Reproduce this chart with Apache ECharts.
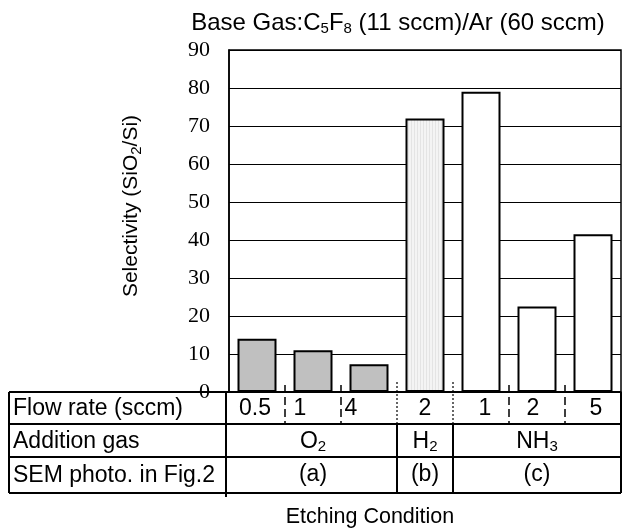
<!DOCTYPE html>
<html lang="en">
<head>
    <meta charset="UTF-8">
    <title>Selectivity</title>
    <script src="https://cdn.jsdelivr.net/npm/echarts@6/dist/echarts.min.js"></script>
    <style>
        body { margin: 0; background: #fff; }
    </style>
</head>
<body>
<div id="main" style="width:623px; height:531px;"></div>
<script>
    // data
    var conditions = ['O2-0.5', 'O2-1', 'O2-4', 'H2-2', 'NH3-1', 'NH3-2', 'NH3-5'];
    var selectivity = [14, 11, 7.3, 72, 79, 22.5, 41.5];
    var flowRates = ['0.5', '1', '4', '2', '1', '2', '5'];
    var gasNames = ['O{s|2}', 'H{s|2}', 'NH{s|3}'];
    var gasSpans = [3, 1, 3];
    var semPhotos = ['(a)', '(b)', '(c)'];
    var yTicks = [0, 10, 20, 30, 40, 50, 60, 70, 80, 90];

    // layout
    var gasColors = ['#c0c0c0', 'stripe', '#ffffff'];
    var flowShift = [-2, -13, -18, 0, 4, -4, 3];
    var tableLeft = 9, labelColRight = 226, tableRight = 621;
    var rowY = [392, 424, 457, 493];
    var sans = 'Liberation Sans, Arial, sans-serif';
    var serif = 'Liberation Serif, Times New Roman, serif';

    // striped fill for the H2 bar
    var stripe = document.createElement('canvas');
    stripe.width = 3; stripe.height = 4;
    var sc = stripe.getContext('2d');
    sc.fillStyle = '#f4f4f4'; sc.fillRect(0, 0, 3, 4);
    sc.fillStyle = '#e4e4e4'; sc.fillRect(0, 0, 1, 4);

    var chart = echarts.init(document.getElementById('main'));

    var barData = [];
    var k = 0;
    for (var g = 0; g < gasSpans.length; g++) {
        for (var j = 0; j < gasSpans[g]; j++) {
            var c = gasColors[g] === 'stripe' ? {image: stripe, repeat: 'repeat'} : gasColors[g];
            barData.push({value: selectivity[k], itemStyle: {color: c}});
            k++;
        }
    }

    var option = {
        animation: false,
        grid: {
            left: 229, right: 2, top: 50, bottom: 139,
            show: true, borderColor: '#000', borderWidth: 1.5, backgroundColor: 'transparent'
        },
        xAxis: {
            type: 'category',
            data: conditions,
            axisLine: {lineStyle: {color: '#000', width: 1.5}},
            axisTick: {show: false},
            axisLabel: {show: false}
        },
        yAxis: {
            type: 'value',
            min: yTicks[0],
            max: yTicks[yTicks.length - 1],
            interval: 10,
            axisLine: {show: true, lineStyle: {color: '#000', width: 1.5}},
            axisTick: {show: false},
            axisLabel: {color: '#000', fontFamily: serif, fontSize: 22, margin: 19},
            splitLine: {lineStyle: {color: '#000', width: 1.2}}
        },
        series: [{
            type: 'bar',
            data: barData,
            barWidth: 39,
            itemStyle: {borderColor: '#000', borderWidth: 2}
        }]
    };
    chart.setOption(option);

    function cx(i) { return chart.convertToPixel({xAxisIndex: 0}, i); }
    function edge(i) { return (cx(i) + cx(i + 1)) / 2; }

    var rich = {s: {fontSize: 15, fontFamily: sans, verticalAlign: 'bottom', lineHeight: 16}};
    function txt(x, y, text, size, extra) {
        var el = {
            type: 'text', x: x, y: y, z: 10,
            style: {
                text: text, fontFamily: sans, fontSize: size, fill: '#000',
                align: 'center', verticalAlign: 'middle', lineHeight: 26, rich: rich
            }
        };
        if (extra) for (var p in extra) el[p] = extra[p];
        return el;
    }
    function line(x1, y1, x2, y2, w, dash) {
        return {
            type: 'line', z: 5,
            shape: {x1: x1, y1: y1, x2: x2, y2: y2},
            style: {stroke: '#000', lineWidth: w, lineDash: dash || null}
        };
    }

    var gr = [];
    // title and axis names
    gr.push(txt(398, 23, 'Base Gas:C{s|5}F{s|8} (11 sccm)/Ar (60 sccm)', 24));
    gr.push(txt(131, 206, 'Selectivity (SiO{s|2}/Si)', 21, {rotation: Math.PI / 2}));
    gr.push(txt(370, 517, 'Etching Condition', 21.5));

    // table frame
    for (var r = 0; r < rowY.length; r++) gr.push(line(tableLeft, rowY[r], tableRight, rowY[r], 2));
    gr.push(line(tableLeft, rowY[0], tableLeft, rowY[3], 2));
    gr.push(line(tableRight, rowY[0], tableRight, rowY[3], 2));
    gr.push(line(labelColRight, rowY[0], labelColRight, rowY[3] + 4, 2));

    // row labels
    var rowLabels = ['Flow rate (sccm)', 'Addition gas', 'SEM photo. in Fig.2'];
    for (var r = 0; r < 3; r++) {
        gr.push(txt(tableLeft + 4, (rowY[r] + rowY[r + 1]) / 2 + 1, rowLabels[r], 23,
            {style: {text: rowLabels[r], fontFamily: sans, fontSize: 23, fill: '#000', align: 'left', verticalAlign: 'middle'}}));
    }

    // flow rate cells
    for (var i = 0; i < flowRates.length; i++) {
        gr.push(txt(cx(i) + flowShift[i], (rowY[0] + rowY[1]) / 2 + 1, flowRates[i], 23));
    }
    // separators: dashed inside a gas group, dotted / solid between groups
    var start = 0;
    for (var g = 0; g < gasSpans.length; g++) {
        var end = start + gasSpans[g] - 1;
        for (var i = start; i < end; i++) {
            gr.push(line(edge(i), rowY[0] - 7, edge(i), rowY[1], 1.5, [8, 4]));
        }
        if (g < gasSpans.length - 1) {
            var x = edge(end);
            gr.push(line(x, rowY[0] - 10, x, rowY[1], 1.2, [2, 2]));
            gr.push(line(x, rowY[1], x, rowY[3], 2));
        }
        var mid = (cx(start) + cx(end)) / 2;
        gr.push(txt(mid, (rowY[1] + rowY[2]) / 2 + 1, gasNames[g], 23));
        gr.push(txt(mid, (rowY[2] + rowY[3]) / 2, semPhotos[g], 23));
        start = end + 1;
    }

    chart.setOption({graphic: gr});
</script>
</body>
</html>
